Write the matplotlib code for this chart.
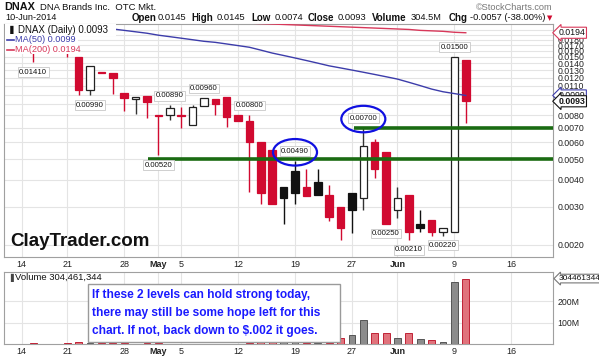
import matplotlib
matplotlib.use("Agg")
import matplotlib.pyplot as plt
import matplotlib.patches as mpatches
import matplotlib.transforms as mtransforms
from matplotlib.ticker import NullLocator, FixedLocator

plt.rcParams['font.family'] = ['Liberation Sans', 'DejaVu Sans']

# ---------------- data ----------------
dates = ["2014-04-11", "2014-04-14", "2014-04-15", "2014-04-16", "2014-04-17", "2014-04-21",
         "2014-04-22", "2014-04-23", "2014-04-24", "2014-04-25", "2014-04-28", "2014-04-29",
         "2014-04-30", "2014-05-01", "2014-05-02", "2014-05-05", "2014-05-06", "2014-05-07",
         "2014-05-08", "2014-05-09", "2014-05-12", "2014-05-13", "2014-05-14", "2014-05-15",
         "2014-05-16", "2014-05-19", "2014-05-20", "2014-05-21", "2014-05-22", "2014-05-23",
         "2014-05-27", "2014-05-28", "2014-05-29", "2014-05-30", "2014-06-02", "2014-06-03",
         "2014-06-04", "2014-06-05", "2014-06-06", "2014-06-09", "2014-06-10"]
opens = [0.0190, 0.0180, 0.0172, 0.0160, 0.0178, 0.0170,
         0.0150, 0.01049, 0.0127, 0.01255, 0.0102, 0.00949,
         0.00988, 0.0080, 0.00799, 0.0080, 0.00721, 0.00882,
         0.00949, 0.00971, 0.00802, 0.00752, 0.00599, 0.00551,
         0.00369, 0.0044, 0.00369, 0.0039, 0.0034, 0.0030,
         0.00349, 0.00331, 0.00603, 0.00541, 0.0029, 0.0034,
         0.00249, 0.0026, 0.00229, 0.00229, 0.0145]
highs = [0.0200, 0.0188, 0.0178, 0.0185, 0.0190, 0.0175,
         0.0150, 0.01358, 0.0127, 0.01255, 0.0102, 0.00971,
         0.00988, 0.0080, 0.0089, 0.00877, 0.00893, 0.0096,
         0.00949, 0.00971, 0.00802, 0.0080, 0.00599, 0.00551,
         0.00369, 0.0049, 0.00448, 0.0045, 0.00379, 0.0030,
         0.00349, 0.0070, 0.0062, 0.00541, 0.00372, 0.0034,
         0.0029, 0.0026, 0.0024, 0.0150, 0.0145]
lows = [0.0175, 0.0165, 0.0141, 0.0158, 0.0162, 0.0149,
        0.00995, 0.0099, 0.0126, 0.01002, 0.0084, 0.00811,
        0.00777, 0.0052, 0.00757, 0.0070, 0.00721, 0.00882,
        0.00802, 0.00708, 0.00752, 0.0035, 0.00308, 0.00309,
        0.00249, 0.00308, 0.00338, 0.00342, 0.00257, 0.0021,
        0.00227, 0.0029, 0.00409, 0.0025, 0.00265, 0.0021,
        0.00229, 0.00219, 0.0022, 0.00229, 0.0074]
closes = [0.0180, 0.0170, 0.0160, 0.0178, 0.0170, 0.0158,
          0.01049, 0.01358, 0.0126, 0.01198, 0.00967, 0.00971,
          0.00925, 0.00796, 0.00868, 0.00796, 0.00877, 0.0096,
          0.0090, 0.00783, 0.00752, 0.00599, 0.00349, 0.00309,
          0.00331, 0.00346, 0.00338, 0.00342, 0.00268, 0.00239,
          0.0029, 0.00577, 0.00448, 0.0025, 0.00328, 0.00229,
          0.0024, 0.00229, 0.0024, 0.0150, 0.0093]
volume_m = [2, 2, 3, 2, 2, 3,
            7, 6, 3, 3, 3, 2,
            3, 3, 2, 2, 2, 2,
            2, 2, 2, 3, 11, 11,
            10, 14, 4, 4, 4, 30,
            44, 111, 53, 53, 27, 53,
            21, 18, 10, 290, 304.461344]

ma50_start = 9
ma50 = [0.0202, 0.0199, 0.0196, 0.0193, 0.0189, 0.0186, 0.0183, 0.0180, 0.0177, 0.0175,
        0.0172, 0.0169, 0.0166, 0.0161, 0.0156, 0.0152, 0.0148, 0.0144, 0.0140, 0.0136,
        0.0133, 0.0130, 0.0127, 0.0124, 0.0121, 0.0118, 0.0114, 0.0110, 0.0106, 0.0103,
        0.0101, 0.0099]
ma200_start = 14
ma200 = [0.0222, 0.0221, 0.0220, 0.0219, 0.0218, 0.0217, 0.0216, 0.0215, 0.0214, 0.0213,
         0.0212, 0.0211, 0.0210, 0.0209, 0.0208, 0.0207, 0.0206, 0.0205, 0.0204, 0.0203,
         0.0202, 0.0201, 0.0199, 0.0198, 0.0197, 0.0195, 0.0194]

label_idx = [2, 7, 14, 17, 13, 21, 25, 31, 33, 35, 38, 39]
label_val = [0.0141, 0.0099, 0.0089, 0.0096, 0.0052, 0.0080, 0.0049, 0.0070, 0.0025, 0.0021, 0.0022, 0.0150]
label_side = ['below', 'below', 'above', 'above', 'below', 'above', 'above', 'above',
              'below', 'below', 'below', 'above']

support_levels = [0.0050, 0.0070]
support_start = [12.1, 30.2]
circled_idx = [25, 31]
circled_val = [0.0049, 0.0070]

tick_pos = [1, 5, 10, 13, 15, 20, 25, 30, 34, 39, 44]
tick_labels = ['14', '21', '28', 'May', '5', '12', '19', '27', 'Jun', '9', '16']
price_ticks = [0.002, 0.003, 0.004, 0.005, 0.006, 0.007, 0.008, 0.011, 0.012, 0.013,
               0.014, 0.015, 0.016, 0.017, 0.018, 0.019]
grid_prices = [0.002, 0.003, 0.004, 0.005, 0.006, 0.007, 0.008, 0.009, 0.010, 0.011, 0.012,
               0.013, 0.014, 0.015, 0.016, 0.017, 0.018, 0.019, 0.020]
vol_ticks = [100, 200]
vol_tick_labels = ['100M', '200M']

# ---------------- layout ----------------
W, H = 599, 363
fig = plt.figure(figsize=(W / 100, H / 100), dpi=100)


def rect(l, t, r, b):
    return [l / W, 1 - b / H, (r - l) / W, (b - t) / H]


def fx(px):
    return px / W


def fy(py):
    return 1 - py / H


RED = '#d10a30'
GRID = '#e4e4e4'
SPINE = '#a0a0a0'
n = len(dates)
xs = list(range(n))

axp = fig.add_axes(rect(4, 24, 553, 257))
axv = fig.add_axes(rect(4, 272, 553, 344))
for ax in (axp, axv):
    ax.set_xlim(-0.56, 47.66)
    for s in ax.spines.values():
        s.set_color(SPINE)
        s.set_linewidth(0.8)
    ax.set_xticks(tick_pos)
    ax.set_xticklabels(tick_labels, fontsize=6.5)
    ax.tick_params(axis='x', length=0, pad=2.5, colors='#222222')
    for t in ax.get_xticklabels():
        if t.get_text() in ('May', 'Jun'):
            t.set_fontweight('bold')
    for p in tick_pos:
        ax.axvline(p, color=GRID, lw=0.8, zorder=0)

# price panel
axp.set_yscale('log')
axp.set_ylim(0.001749, 0.02131)
axp.yaxis.set_minor_locator(NullLocator())
axp.yaxis.set_major_locator(FixedLocator(price_ticks))
axp.yaxis.tick_right()
axp.set_yticklabels(['%.4f' % v for v in price_ticks], fontsize=6.3)
axp.tick_params(axis='y', length=0, pad=3, colors='#222222')
for gp in grid_prices:
    axp.axhline(gp, color=GRID, lw=0.8, zorder=0)

for i in xs:
    o, h, l, c = opens[i], highs[i], lows[i], closes[i]
    prev = closes[i - 1] if i > 0 else o
    col = RED if c < prev else '#111111'
    hollow = c > o
    axp.vlines(i, l, h, color=col if not hollow else '#333333', lw=1.0, zorder=2)
    bottom = min(o, c)
    height = abs(c - o)
    if hollow:
        axp.bar(i, height, bottom=bottom, width=0.66, facecolor='white', edgecolor='#222222',
                lw=0.9, zorder=3)
    else:
        axp.bar(i, height, bottom=bottom, width=0.66, facecolor=col, edgecolor=col,
                lw=0.9, zorder=3)

axp.plot(range(ma50_start, ma50_start + len(ma50)), ma50, color='#3c3caa', lw=1.0, zorder=4)
axp.plot(range(ma200_start, ma200_start + len(ma200)), ma200, color='#d8385a', lw=1.0, zorder=4)

for lvl, st in zip(support_levels, support_start):
    axp.hlines(lvl, st, 47.66, color='#1a6b12', lw=2.6, zorder=5)

for i, v, side in zip(label_idx, label_val, label_side):
    dy = 7 if side == 'above' else -7
    axp.annotate('%.5f' % v, xy=(i, v), xytext=(0, dy), textcoords='offset points',
                 ha='center', va='center', fontsize=5.6, color='#111111', zorder=7,
                 bbox=dict(boxstyle='square,pad=0.18', fc='white', ec='#c8c8c8', lw=0.6))

for i, v in zip(circled_idx, circled_val):
    tr = fig.dpi_scale_trans + mtransforms.ScaledTranslation(i, v, axp.transData)
    axp.add_patch(mpatches.Ellipse((0, 0.087), 0.44, 0.265, transform=tr, fill=False,
                                   ec='#1010e0', lw=1.6, zorder=8, clip_on=False))

# right-side boxed labels
for val, txt, ec, fw in [(0.0194, '0.0194', '#d8385a', 'normal'),
                         (0.0099, '0.0099', '#3c3caa', 'normal'),
                         (0.0093, '0.0093', '#111111', 'bold')]:
    axp.annotate(txt, xy=(1, val), xycoords=('axes fraction', 'data'), xytext=(4, 0),
                 textcoords='offset points', ha='left', va='center', fontsize=6.3,
                 fontweight=fw, color='#111111', annotation_clip=False, zorder=9,
                 bbox=dict(boxstyle='larrow,pad=0.12', fc='white', ec=ec, lw=0.8))

# volume panel
vcols = []
for i in xs:
    prev = closes[i - 1] if i > 0 else opens[i]
    vcols.append(closes[i] < prev)
axv.bar(xs, volume_m, width=0.6,
        color=['#e0737c' if r else '#8c8c8c' for r in vcols],
        edgecolor=['#c02236' if r else '#555555' for r in vcols], lw=0.7, zorder=3)
axv.set_ylim(0, 335)
axv.yaxis.tick_right()
axv.set_yticks(vol_ticks)
axv.set_yticklabels(vol_tick_labels, fontsize=6.3)
axv.tick_params(axis='y', length=0, pad=3, colors='#222222')
for vt in vol_ticks:
    axv.axhline(vt, color=GRID, lw=0.8, zorder=0)
axv.annotate('304461344', xy=(1, volume_m[-1]), xycoords=('axes fraction', 'data'),
             xytext=(4, 0), textcoords='offset points', ha='left', va='center', fontsize=6.0,
             color='#111111', annotation_clip=False, zorder=9,
             bbox=dict(boxstyle='larrow,pad=0.1', fc='white', ec='#777777', lw=0.8))

# ---------------- texts ----------------
fig.text(fx(4), fy(7), 'DNAX', fontsize=7.8, fontweight='bold', va='center', color='#111')
fig.text(fx(40), fy(7.5), 'DNA Brands Inc.  OTC Mkt.', fontsize=6.8, va='center', color='#111')
fig.text(fx(5), fy(18), '10-Jun-2014', fontsize=6.6, va='center', color='#111')
fig.text(fx(553), fy(7), '\u00a9StockCharts.com', fontsize=6.6, va='center', ha='right',
         color='#777777')
hdr = [(132, 'Open', True), (158, '0.0145', False), (191, 'High', True), (217, '0.0145', False),
       (251, 'Low', True), (275, '0.0074', False), (308, 'Close', True), (338, '0.0093', False),
       (372, 'Volume', True), (411, '304.5M', False), (449, 'Chg', True),
       (470, '-0.0057 (-38.00%)', False)]
for x, t, b in hdr:
    fig.text(fx(x), fy(18), t, fontsize=7.0 if b else 6.7,
             fontweight='bold' if b else 'normal', va='center', color='#111')
fig.text(fx(547), fy(18.5), '\u25bc', fontsize=5, va='center', color=RED,
         family=['DejaVu Sans'])

# legend (white backing hides the candles underneath)
fig.add_artist(mpatches.Rectangle((fx(5), fy(36)), fx(111), 12 / H, transform=fig.transFigure,
                                  fc='white', ec='none', zorder=2))
fig.add_artist(mpatches.Rectangle((fx(5), fy(54)), fx(73), 19 / H, transform=fig.transFigure,
                                  fc='white', ec='none', zorder=2))
fig.text(fx(7), fy(30), '\u2590', fontsize=6, va='center', color='#111', zorder=3,
         family=['DejaVu Sans'])
fig.text(fx(18), fy(30), 'DNAX (Daily) 0.0093', fontsize=7.0, va='center', color='#111',
         zorder=3)
fig.add_artist(plt.Line2D([fx(7), fx(14)], [fy(40), fy(40)], color='#3c3caa', lw=1.2, zorder=3))
fig.text(fx(15), fy(40), 'MA(50) 0.0099', fontsize=6.6, va='center', color='#3c3caa', zorder=3)
fig.add_artist(plt.Line2D([fx(7), fx(14)], [fy(49.5), fy(49.5)], color='#d8385a', lw=1.2,
                          zorder=3))
fig.text(fx(15), fy(49.5), 'MA(200) 0.0194', fontsize=6.6, va='center', color='#d8385a',
         zorder=3)

fig.text(fx(10), fy(242), 'ClayTrader.com', fontsize=13.5, fontweight='bold', va='center',
         color='#111', zorder=3)

fig.text(fx(7), fy(277), '\u2590', fontsize=5.5, va='center', color='#444',
         family=['DejaVu Sans'], zorder=3)
fig.text(fx(15), fy(277), 'Volume 304,461,344', fontsize=6.8, va='center', color='#111',
         zorder=3)

fig.add_artist(mpatches.Rectangle((fx(88), fy(342)), fx(252), 58 / H, transform=fig.transFigure,
                                  fc='white', ec='#9a9a9a', lw=1.0, zorder=2))
for yy, line in [(295, 'If these 2 levels can hold strong today,'),
                 (313, 'there may still be some hope left for this'),
                 (331, 'chart. If not, back down to $.002 it goes.')]:
    fig.text(fx(92), fy(yy), line, fontsize=8.6, fontweight='bold', va='center',
             color='#1a1aff', zorder=3)

fig.savefig('out.png', dpi=100)
